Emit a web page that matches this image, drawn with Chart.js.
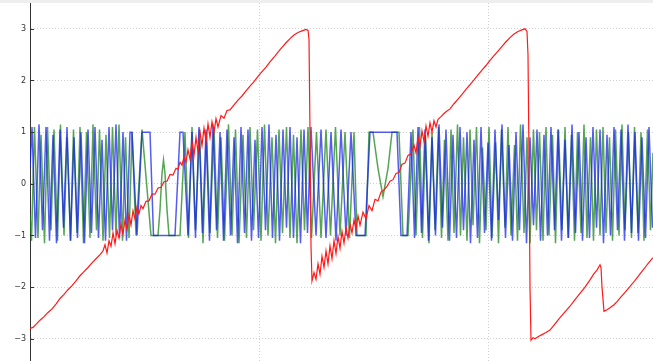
<!DOCTYPE html>
<html>
<head>
<meta charset="utf-8">
<script src="https://cdn.jsdelivr.net/npm/chart.js@4"></script>
<style>
  html, body { margin: 0; padding: 0; background: #fff; overflow: hidden; }
  #strip { width: 653px; height: 3px; background: #eeeeee; }
  #wrap { width: 653px; height: 358px; }
</style>
</head>
<body>
<div id="strip"></div>
<div id="wrap"><canvas id="chart" width="653" height="358"></canvas></div>
<script>
// tick values (x ticks carry no labels, only grid lines)
const yTicks = [-3, -2, -1, 0, 1, 2, 3];
const xTicks = [229, 458];

// blue signal, [sample, value]
const blue = [
  [0,0.3],[2,1.1],[5.5,-1.05],[9,1.15],[12.5,-0.9],[16,1.1],[19.5,-1.1],[23,0.95],[26.5,-1.15],[30,1.05],
  [33.5,-0.85],[37,1.1],[40.5,-1.1],[44,0.9],[47.5,-1.05],[51,1.0],[54.5,-1.15],[58,1.05],[61.5,-0.95],[65,1.1],
  [68.5,-1.05],[72,0.85],[75.5,-1.1],[79,1.1],[82.5,-0.9],[86,1.15],[89.5,-1.05],[93,1.0],[96.5,-1.1],[100,1.0],
  [102,1.0],[107,-1.0],[112,1.0],[120,1.0],[123.5,-1.0],[145,-1.0],[150,1.0],[153,1.0],[158,-1.0],[162,1.0],
  [165.5,-1.05],[169,1.1],[172.5,-0.95],[176,1.05],[179.5,-1.1],[183,1.15],[186.5,-0.9],[190,1.0],[193.5,-1.1],
  [197,1.05],[200.5,-1.0],[204,0.9],[207.5,-1.15],[211,1.1],[214.5,-0.95],[218,1.05],[221.5,-1.1],[225,0.85],
  [228.5,-1.05],[232,1.1],[235.5,-0.9],[239,1.15],[242.5,-1.05],[246,0.95],[249.5,-1.1],[253,1.05],[256.5,-0.85],
  [260,1.1],[263.5,-1.05],[267,0.9],[270.5,-1.15],[274,1.05],[277.5,-0.95],[281,1.1],
  [286,-1.0],[291,1.05],[296,-1.05],[301,1.0],[306,-1.1],[311,1.05],[316,-1.0],[321,1.0],[326,-1.0],
  [328,-1.0],[335,-1.0],[340,1.0],[367,1.0],[371,-1.0],[377,-1.0],[381,1.0],
  [384.5,-1.05],[388,1.1],[391.5,-0.95],[395,1.05],[398.5,-1.1],[402,0.9],[405.5,-1.0],[409,1.15],[412.5,-0.85],
  [416,1.05],[419.5,-1.1],[423,0.95],[426.5,-1.05],[430,1.1],[433.5,-0.9],[437,1.0],[440.5,-1.15],[444,0.85],
  [447.5,-1.05],[451,1.1],[454.5,-0.95],[458,0.8],[461.5,-1.1],[465,1.05],[468.5,-0.7],[472,1.15],[475.5,-1.05],
  [479,0.75],[482.5,-1.1],[486,1.0],[489.5,-0.9],[493,1.15],[496.5,-1.15],[500,0.9],[503.5,-0.8],[507,1.05],
  [510.5,-1.1],[514,0.95],[517.5,-1.0],[521,1.1],[524.5,-0.9],[528,1.05],[531.5,-1.1],[535,0.85],[538.5,-1.05],
  [542,1.15],[545.5,-0.95],[549,1.0],[552.5,-1.1],[556,0.9],[559.5,-1.05],[563,1.1],[566.5,-0.85],[570,1.05],
  [573.5,-1.15],[577,0.95],[580.5,-1.0],[584,1.1],[587.5,-0.9],[591,1.05],[594.5,-1.1],[598,1.15],[601.5,-0.95],
  [605,1.0],[608.5,-1.1],[612,0.9],[615.5,-1.05],[619,1.1],[622.5,-0.85],[623,-0.7]
];

// green signal, [sample, value]
const green = [
  [0,-0.6],[1.5,-1.1],[4.5,1.1],[8,-1.05],[11,0.95],[14.5,-1.15],[17.5,1.1],[21,-0.9],[24,1.05],[27.5,-1.1],
  [30.5,1.15],[34,-1.0],[37,0.9],[40.5,-1.1],[43.5,1.05],[47,-0.95],[50,1.1],[53.5,-1.15],[56.5,1.0],[60,-1.05],
  [63,1.15],[66.5,-0.9],[69.5,1.05],[73,-1.1],[76,0.95],[79.5,-1.05],[82.5,1.1],[86,-1.0],[89,1.15],[92.5,-1.1],
  [95.5,0.9],[99,-1.05],[102,1.0],[106,-1.0],[112,1.05],[121,-1.0],[128,-1.0],[130,-0.5],[132,0.2],[133.5,0.46],
  [135,0.2],[137,-0.5],[139,-1.0],[150,-1.0],[155,1.0],
  [158.5,-1.05],[162,1.1],[165.5,-0.9],[169.5,1.05],[173,-1.15],[176.5,1.0],[180,-0.95],[184,1.1],[187.5,-1.05],
  [191,0.9],[194.5,-1.1],[198.5,1.15],[202,-1.0],[205.5,1.05],[209,-1.15],[213,0.95],[216.5,-1.05],[220,1.1],
  [223.5,-0.9],[227.5,1.05],[231,-1.1],[234.5,1.15],[238,-1.0],[242,0.9],[245.5,-1.15],[249,1.05],[252.5,-0.95],
  [256.5,1.1],[260,-1.05],[263.5,0.95],[267,-1.15],[271,1.05],[274.5,-0.9],[278,1.1],[281.5,-1.05],
  [286.5,1.0],[291,-1.05],[296,1.05],[300.5,-1.0],[305.5,1.1],[310,-1.0],[315,1.0],[319.5,-1.05],[324,1.0],
  [327,-1.0],[336,-1.0],[339,1.0],[343,1.0],[348,0.3],[353,-0.25],[358,0.3],[362,1.0],[369,1.0],[373,-1.0],
  [378,-1.0],[383,1.05],
  [386,-1.0],[389.5,1.1],[392.5,-1.05],[395.5,0.95],[399,-1.15],[402,1.0],[405,-0.9],[408.5,1.1],[411.5,-1.05],
  [414.5,0.85],[418,-1.1],[421,1.05],[424,-0.95],[427.5,1.15],[430.5,-1.0],[433.5,0.9],[437,-1.1],[440,1.05],
  [443,-0.8],[446.5,1.1],[449.5,-1.15],[452.5,0.7],[456,-0.9],[459,1.1],[462,-1.05],[465.5,0.8],[468.5,-1.15],
  [471.5,1.05],[475,-0.85],[478,1.1],[481,-1.0],[484.5,0.75],[487.5,-1.1],[490.5,1.15],[494,-0.95],[497,0.9],
  [500,-1.15],[503.5,1.05],[506.5,-0.9],[509.5,1.0],[513,-1.1],[516,1.1],[519,-1.0],[522.5,0.95],[525.5,-1.15],
  [528.5,1.05],[532,-0.9],[535,1.1],[538,-1.05],[541.5,0.95],[544.5,-1.1],[547.5,1.0],[551,-0.95],[554,1.15],
  [557,-1.05],[560.5,0.9],[563.5,-1.1],[566.5,1.05],[570,-1.0],[573,1.1],[576,-0.95],[579.5,0.9],[582.5,-1.1],
  [585.5,1.05],[589,-1.0],[592,1.15],[595,-0.9],[598.5,1.0],[601.5,-1.05],[604.5,1.1],[608,-0.95],[611,1.0],
  [614,-1.1],[617.5,1.05],[620.5,-0.9],[623,0.6]
];

// red sawtooth, [sample, value]
const red = [
  [0,-2.80],[3,-2.78],[6,-2.72],[10,-2.64],[14,-2.57],[18,-2.49],[22,-2.42],[26,-2.33],[30,-2.22],[34,-2.14],
  [38,-2.05],[42,-1.97],[46,-1.88],[50,-1.78],[54,-1.70],[58,-1.62],[62,-1.53],[66,-1.45],[70,-1.37],[73,-1.30],
  [75,-1.18],[77,-1.34],[79,-1.10],[81,-1.21],[83,-0.95],[85,-1.16],[87,-0.90],[89,-1.05],[91,-0.78],[93,-0.98],
  [95,-0.70],[97,-0.88],[99,-0.60],[101,-0.80],[103,-0.52],[105,-0.68],[107,-0.45],[109,-0.58],[111,-0.42],
  [113,-0.48],[116,-0.34],[119,-0.33],[122,-0.20],[125,-0.20],[128,-0.08],[131,-0.07],[134,0.04],[137,0.05],
  [140,0.18],[143,0.17],[146,0.30],[148,0.28],[150,0.42],[152,0.36],[154,0.52],[156,0.42],[158,0.66],[160,0.48],
  [162,0.80],[164,0.55],[166,0.90],[168,0.62],[170,1.00],[172,0.74],[174,1.08],[176,0.82],[178,1.16],[180,0.90],
  [182,1.20],[184,1.00],[186,1.26],[188,1.10],[191,1.32],[194,1.27],[197,1.42],[200,1.43],
  [204,1.53],[208,1.62],[212,1.70],[216,1.80],[220,1.89],[224,1.98],[228,2.08],[232,2.17],[236,2.26],[240,2.36],
  [244,2.45],[248,2.55],[252,2.64],[256,2.73],[260,2.81],[264,2.88],[268,2.93],[272,2.96],[276,2.99],[278,2.97],
  [279,2.80],[280,1.0],[281,-1.2],[282,-1.88],
  [284,-1.72],[286,-1.85],[288,-1.55],[290,-1.75],[292,-1.40],[294,-1.62],[296,-1.30],[298,-1.55],[300,-1.20],
  [302,-1.45],[304,-1.10],[306,-1.35],[308,-1.02],[310,-1.25],[312,-0.92],[314,-1.15],[316,-0.85],[318,-1.05],
  [320,-0.78],[322,-0.95],[324,-0.70],[326,-0.88],[328,-0.62],[330,-0.80],[333,-0.55],[336,-0.68],[339,-0.42],
  [342,-0.52],[345,-0.30],[348,-0.33],[351,-0.16],[354,-0.12],[357,-0.05],[360,0.05],[363,0.08],[366,0.20],
  [369,0.22],[372,0.38],[375,0.40],[378,0.55],[381,0.58],
  [384,0.75],[386,0.60],[388,0.90],[390,0.72],[392,1.02],[394,0.82],[396,1.12],[398,0.92],[400,1.18],[402,1.00],
  [404,1.22],[406,1.10],[408,1.25],[411,1.30],[414,1.36],[417,1.41],[420,1.45],[424,1.55],[428,1.64],[432,1.73],
  [436,1.83],[440,1.92],[444,2.01],[448,2.11],[452,2.20],[456,2.29],[460,2.39],[464,2.48],[468,2.57],[472,2.66],
  [476,2.75],[480,2.83],[484,2.90],[488,2.95],[492,2.98],[495,3.00],[497,2.95],[498,2.50],[499,0.50],[500,-2.00],
  [501,-3.03],[503,-2.98],[505,-3.00],[508,-2.96],[512,-2.92],[516,-2.88],[520,-2.83],[525,-2.71],[530,-2.59],
  [535,-2.48],[540,-2.37],[545,-2.24],[550,-2.12],[555,-2.00],[560,-1.86],[564,-1.74],[567,-1.67],[569,-1.60],
  [570,-1.57],[571,-1.62],[572,-2.00],[574,-2.47],[577,-2.44],[580,-2.40],[584,-2.34],[587,-2.28],[591,-2.19],
  [595,-2.10],[599,-2.01],[603,-1.92],[607,-1.82],[611,-1.72],[615,-1.62],[619,-1.52],[623,-1.43]
];

const toXY = pts => pts.map(([x, y]) => ({ x, y }));

const dotted = { color: '#cfcfcf', lineWidth: 1, drawTicks: false };

// small inward tick marks on the left axis, like the original plot
const innerTicks = {
  id: 'innerTicks',
  afterDraw(chart) {
    const { ctx, scales: { y }, chartArea } = chart;
    ctx.save();
    ctx.strokeStyle = '#333';
    ctx.lineWidth = 1;
    yTicks.forEach(v => {
      const py = Math.round(y.getPixelForValue(v)) + 0.5;
      ctx.beginPath();
      ctx.moveTo(chartArea.left, py);
      ctx.lineTo(chartArea.left + 4, py);
      ctx.stroke();
    });
    ctx.restore();
  }
};

new Chart(document.getElementById('chart'), {
  type: 'line',
  data: {
    datasets: [
      { label: 'red', data: toXY(red), borderColor: '#ff1a1a', borderWidth: 1.2, order: 0 },
      { label: 'blue', data: toXY(blue), borderColor: 'rgba(20,30,235,0.72)', order: 1 },
      { label: 'green', data: toXY(green), borderColor: 'rgba(20,130,20,0.72)', order: 2 }
    ]
  },
  options: {
    responsive: false,
    animation: false,
    layout: { padding: 0 },
    elements: {
      point: { radius: 0 },
      line: { borderWidth: 1.5, tension: 0 }
    },
    plugins: {
      legend: { display: false },
      tooltip: { enabled: false }
    },
    scales: {
      x: {
        type: 'linear',
        min: 0,
        max: 623,
        afterBuildTicks: s => { s.ticks = xTicks.map(v => ({ value: v })); },
        afterFit: s => { s.height = 0; s.paddingLeft = 0; s.paddingRight = 0; },
        ticks: { display: false },
        grid: dotted,
        border: { display: false, dash: [1, 2] }
      },
      y: {
        min: -3.43,
        max: 3.5,
        afterBuildTicks: s => { s.ticks = yTicks.map(v => ({ value: v })); },
        afterFit: s => { s.width = 30; s.paddingTop = 0; s.paddingBottom = 0; },
        ticks: {
          color: '#333',
          padding: 4,
          font: { family: 'DejaVu Sans', size: 8 },
          callback: v => String(v).replace('-', '\u2212')
        },
        grid: dotted,
        border: { color: '#333', width: 1, dash: [1, 2] }
      }
    }
  },
  plugins: [innerTicks]
});
</script>
</body>
</html>
